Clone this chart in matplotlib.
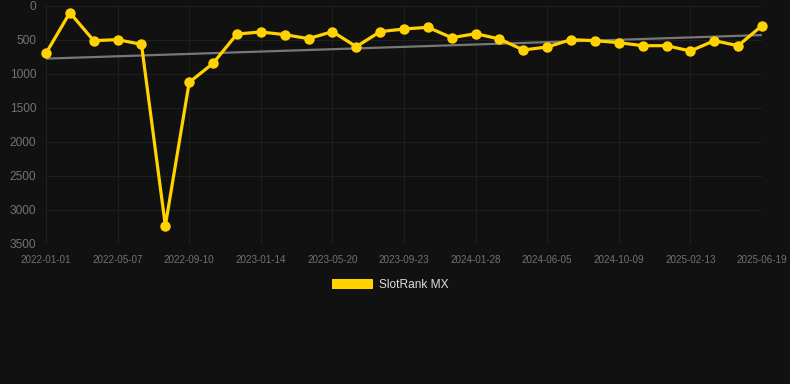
"""SlotRank MX history: rank over time (lower is better), with linear trend."""
import matplotlib
matplotlib.use("Agg")
import matplotlib.pyplot as plt
import numpy as np
from matplotlib.patches import Patch

plt.rcParams["font.family"] = ["Liberation Sans", "DejaVu Sans"]

# ── data ──────────────────────────────────────────────────────
RANK = [697, 98, 511, 496, 565, 3237, 1125, 845, 413, 383, 422, 481,
        378, 599, 378, 339, 314, 467, 408, 486, 648, 604, 496, 511,
        540, 585, 585, 663, 511, 585, 290]
TICK_LABELS = ["2022-01-01", "2022-05-07", "2022-09-10", "2023-01-14",
               "2023-05-20", "2023-09-23", "2024-01-28", "2024-06-05",
               "2024-10-09", "2025-02-13", "2025-06-19"]
TICK_STEP = 3
SERIES_NAME = "SlotRank MX"

BG = "#111111"
GRID = "#1f1f1f"
GOLD = "#ffd200"
TREND = "#777777"
TICK_TXT = "#727272"


def main() -> None:
    y = np.array(RANK, dtype=float)
    x = np.arange(len(y))

    fig = plt.figure(figsize=(7.9, 3.84), dpi=100, facecolor=BG)
    ax = fig.add_axes([46 / 790, 1 - 243.5 / 384, 716 / 790, 237.5 / 384])
    ax.set_facecolor(BG)

    # linear trend across all points
    slope, inter = np.polyfit(x, y, 1)
    ax.plot(x[[0, -1]], slope * x[[0, -1]] + inter, "-", color=TREND,
            linewidth=1.6, zorder=2)

    ax.plot(x, y, "-o", color=GOLD, linewidth=2.3, markersize=7.5,
            markeredgewidth=0, zorder=3, clip_on=False)

    ax.set_xlim(0, len(y) - 1)
    ax.set_ylim(3500, 0)
    ax.set_yticks(np.arange(0, 3501, 500))
    ax.set_xticks(x[::TICK_STEP])
    ax.set_xticklabels(TICK_LABELS)

    ax.grid(True, color=GRID, linewidth=0.8)
    ax.set_axisbelow(True)
    for s in ax.spines.values():
        s.set_visible(False)
    ax.tick_params(axis="y", length=0, pad=7, labelsize=8.6,
                   labelcolor=TICK_TXT)
    ax.tick_params(axis="x", length=0, pad=8, labelsize=7.1,
                   labelcolor=TICK_TXT)

    handle = Patch(facecolor=GOLD, edgecolor="none", label=SERIES_NAME)
    fig.legend(handles=[handle], loc="center", bbox_to_anchor=(0.494, 0.258),
               frameon=False, fontsize=8.6, labelcolor="#dddddd",
               handlelength=3.4, handleheight=0.95, handletextpad=0.5)

    fig.savefig("out.png", dpi=100, facecolor=BG)


if __name__ == "__main__":
    main()
